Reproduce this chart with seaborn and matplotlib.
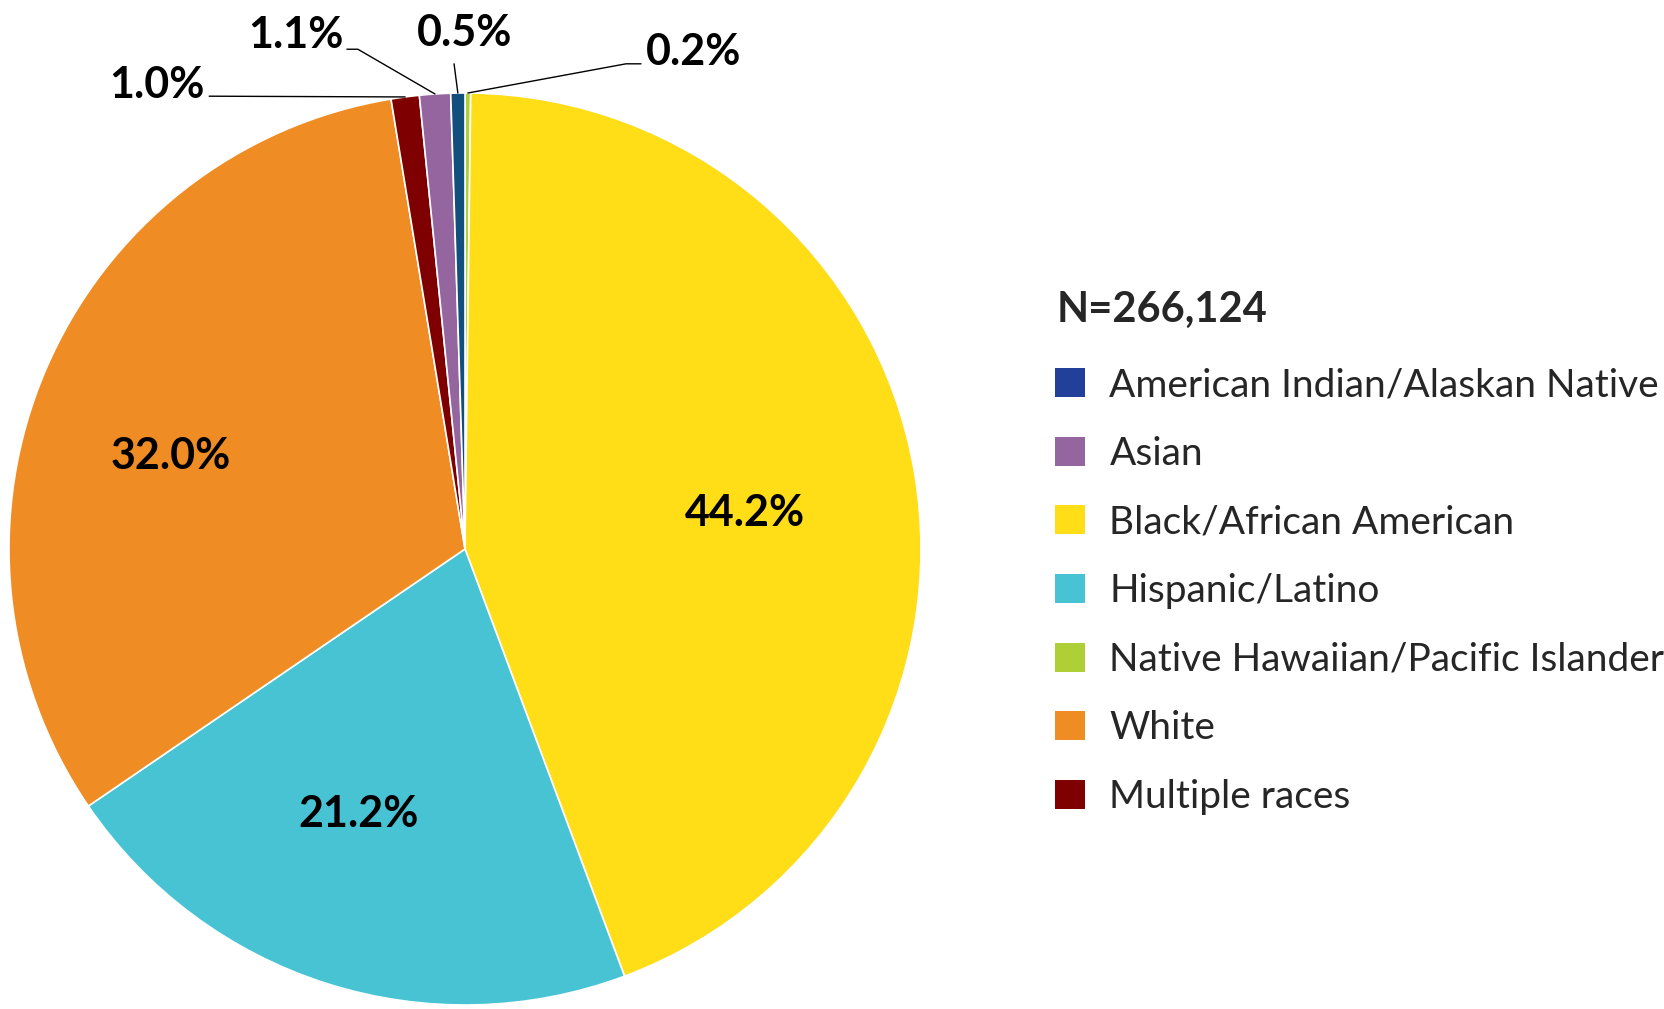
import numpy as np
import matplotlib
matplotlib.use("Agg")
import matplotlib.pyplot as plt
from matplotlib.patches import Patch
import seaborn as sns

sns.set_theme(style="white")
plt.rcParams['font.family'] = ['Lato', 'DejaVu Sans']

# data, in the order the slices go clockwise from 12 o'clock
slice_names = ["Native Hawaiian/Pacific Islander", "Black/African American", "Hispanic/Latino",
               "White", "Multiple races", "Asian", "American Indian/Alaskan Native"]
slice_pcts = [0.2, 44.2, 21.2, 32.0, 1.0, 1.1, 0.5]
slice_colors = ["#AED036", "#FFDD17", "#48C3D3", "#EF8C24", "#7F0000", "#9565A0", "#134F7D"]

# legend order / colours
legend_names = ["American Indian/Alaskan Native", "Asian", "Black/African American", "Hispanic/Latino",
                "Native Hawaiian/Pacific Islander", "White", "Multiple races"]
legend_colors = ["#22409A", "#9565A0", "#FFDD17", "#48C3D3", "#AED036", "#EF8C24", "#7F0000"]
n_total = "N=266,124"

W, H = 1664, 1009
fig = plt.figure(figsize=(W / 100, H / 100), dpi=100)
cx, cy, r = 465, 549, 456
ax = fig.add_axes([(cx - r) / W, (H - cy - r) / H, 2 * r / W, 2 * r / H])

wedges, _ = ax.pie(slice_pcts, colors=slice_colors, startangle=90, counterclock=False,
                   wedgeprops=dict(edgecolor="white", linewidth=1.2))
ax.set_xlim(-1, 1)
ax.set_ylim(-1, 1)
ax.set_aspect("equal")
ax.axis("off")

lbl_font = dict(fontsize=31, fontweight="bold", color="black", ha="center", va="center")

def mid_point(w, rad=1.0):
    a = np.deg2rad((w.theta1 + w.theta2) / 2)
    return rad * np.cos(a), rad * np.sin(a)

# big slices: label inside (label positions in pie radius units)
inside = {1: (0.614, 0.080), 2: (-0.233, -0.581), 3: (-0.645, 0.203)}
for i, (x, y) in inside.items():
    ax.text(x, y, f"{slice_pcts[i]:.1f}%", **lbl_font)

# small slices: outside labels with leader lines (label pos, line points before the wedge)
outside = {
    4: ((-0.675, 1.017), [(-0.561, 0.993)]),
    5: ((-0.371, 1.127), [(-0.259, 1.096), (-0.235, 1.096)]),
    6: ((0.0, 1.131), [(-0.024, 1.064)]),
    0: ((0.502, 1.089), [(0.386, 1.064), (0.353, 1.064)]),
}
for i, (pos, pts) in outside.items():
    ax.text(pos[0], pos[1], f"{slice_pcts[i]:.1f}%", **lbl_font)
    ex, ey = mid_point(wedges[i], 1.0)
    xs = [p[0] for p in pts] + [ex]
    ys = [p[1] for p in pts] + [ey]
    ax.plot(xs, ys, color="black", linewidth=1.0, clip_on=False)

fig.text(1057 / W, 1 - 310 / H, n_total, fontsize=30, fontweight="bold", ha="left", va="center")

handles = [Patch(facecolor=c, edgecolor="none") for c in legend_colors]
leg = fig.legend(handles, legend_names, loc="upper left",
                 bbox_to_anchor=(1055 / W, 1 - 367 / H), frameon=False,
                 fontsize=28, handlelength=0.78, handleheight=0.78, handletextpad=0.62,
                 labelspacing=0.84, borderpad=0, borderaxespad=0)

fig.savefig("out.png", dpi=100, facecolor="white")
